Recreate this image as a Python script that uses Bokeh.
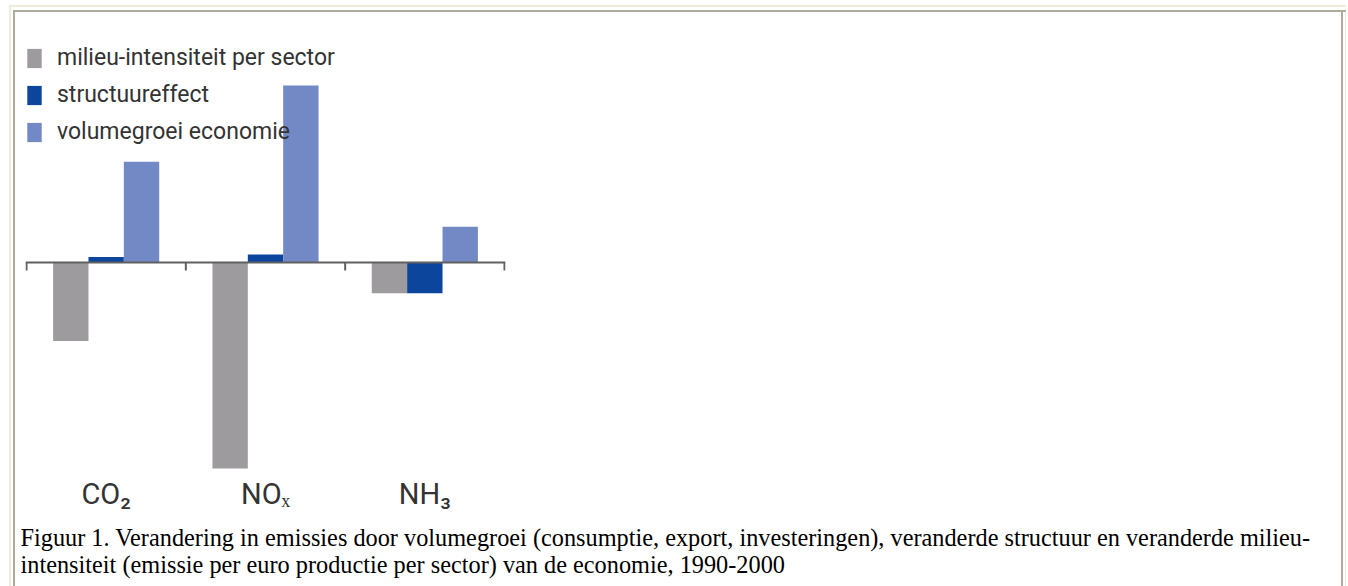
from bokeh.plotting import figure
from bokeh.models import (ColumnDataSource, Range1d, FixedTicker, Span, Legend,
                          LegendItem, Title)
from bokeh.embed import file_html
from bokeh.resources import INLINE

# ---- data ----
categories = ["CO₂", "NOₓ", "NH₃"]
series_names = ["milieu-intensiteit per sector", "structuureffect", "volumegroei economie"]
milieu_intensiteit = [-26.3, -69.0, -10.3]
structuureffect = [1.8, 2.7, -10.3]
volumegroei = [33.7, 59.3, 12.0]
colors = ["#9d9b9e", "#0b469c", "#7389c6"]
caption_lines = [
    "Figuur 1. Verandering in emissies door volumegroei (consumptie, export, investeringen), veranderde structuur en veranderde milieu-",
    "intensiteit (emissie per euro productie per sector) van de economie, 1990-2000",
]

W, H = 1346, 586
FL, FW, FT, FB = 25, 480, 44, 476   # frame left, width, top, bottom (canvas px)
pad = 1 / 159.5
shadow = ", ".join([
    "inset 9px 5px 0 0 #ffffff", "inset 11px 7px 0 0 #efecdc",
    "inset 13px 10px 0 0 #ffffff", "inset 15px 12px 0 0 #aeab9e",
    "inset -1px 0 0 0 #efecdc", "inset -3px 0 0 0 #ffffff",
    "inset -5px 0 0 0 #aeab9e",
])
p = figure(width=W, height=H, output_backend="svg", toolbar_location=None,
           x_range=Range1d(-pad, 3 + pad), y_range=Range1d(-71.0, 73.0),
           y_axis_location=None, min_border_left=FL, min_border_right=W - FL - FW,
           min_border_top=FT, min_border_bottom=H - FB)
p.title.visible = False
p.outline_line_color = None
p.xgrid.visible = False
p.ygrid.visible = False
p.background_fill_color = "white"
p.border_fill_alpha = 0
p.styles = {"box-shadow": shadow}

# x axis: labels only
p.xaxis.ticker = FixedTicker(ticks=[0.5, 1.5, 2.5])
p.xaxis.major_label_overrides = {0.5: categories[0], 1.5: categories[1], 2.5: categories[2]}
p.xaxis.axis_line_color = None
p.xaxis.major_tick_line_color = None
p.xaxis.minor_tick_line_color = None
p.xaxis.major_tick_out = 0
p.xaxis.major_tick_in = 0
p.xaxis.major_label_standoff = 2
p.xaxis.major_label_text_font = "Roboto"
p.xaxis.major_label_text_font_size = "29px"
p.xaxis.major_label_text_color = "#333333"

bw = 0.222
series = [milieu_intensiteit, structuureffect, volumegroei]
offsets = [-bw, 0.0, bw]
renderers = []
for vals, off, col in zip(series, offsets, colors):
    src = ColumnDataSource(dict(x=[i + 0.5 + off for i in range(len(categories))], top=vals))
    r = p.vbar(x="x", top="top", bottom=0, width=bw, source=src,
               fill_color=col, line_color=None)
    renderers.append(r)

# zero axis line and ticks
p.add_layout(Span(location=0, dimension="width", line_color="#606060", line_width=2))
tick_src = ColumnDataSource(dict(x=[0, 1, 2, 3]))
p.segment(x0="x", x1="x", y0=0, y1=-2.7, source=tick_src, line_color="#606060", line_width=2)

legend = Legend(items=[LegendItem(label=n, renderers=[r]) for n, r in zip(series_names, renderers)],
                location="top_left", padding=0, margin=0, spacing=10,
                glyph_width=18, glyph_height=24, label_height=24, label_standoff=14,
                label_text_font="Roboto", label_text_font_size="23px",
                label_text_color="#333333", background_fill_alpha=0,
                border_line_color=None)
legend.level = "underlay"
p.add_layout(legend)

# caption
p.add_layout(Title(text="\n".join(caption_lines), align="left", offset=-5, standoff=16,
                   text_font="Liberation Serif", text_font_size="24.3px",
                   text_font_style="normal", text_color="black",
                   text_line_height=1.02), "below")

open("out.html", "w").write(file_html(p, INLINE))
